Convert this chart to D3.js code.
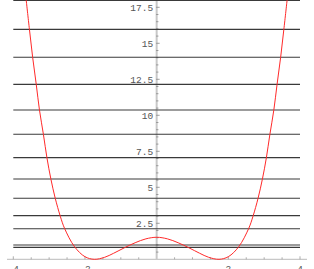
<!DOCTYPE html>
<html>
<head>
<meta charset="utf-8">
<script src="https://cdn.jsdelivr.net/npm/d3@7"></script>
<style>
  body { margin: 0; background: #fff; }
  svg { display: block; }
</style>
</head>
<body>
<div id="chart"></div>
<script>
// potential curve, values
const curveX = [-3.64, -3.55, -3.46, -3.36, -3.27, -3.16, -3.06, -2.95, -2.83, -2.69, -2.57, -2.29, -2.0, -1.74, -1.45, -1.2, -0.9, -0.6, -0.3, 0,
                 0.3, 0.6, 0.9, 1.2, 1.45, 1.74, 2.0, 2.29, 2.57, 2.69, 2.83, 2.95, 3.06, 3.16, 3.27, 3.36, 3.46, 3.55, 3.64];
const curveV = [18.0, 15.97, 14.03, 12.15, 10.37, 8.68, 7.03, 5.56, 4.24, 3.0, 2.15, 0.87, 0.18, 0, 0.14, 0.42, 0.8, 1.15, 1.42, 1.53,
                1.42, 1.15, 0.8, 0.42, 0.14, 0, 0.18, 0.87, 2.15, 3.0, 4.24, 5.56, 7.03, 8.68, 10.37, 12.15, 14.03, 15.97, 18.0];

// energy levels (horizontal lines)
const levels = [0.83, 0.99, 2.12, 3.03, 4.24, 5.58, 7.06, 8.68, 10.37, 12.15, 14.03, 15.97, 17.98];

const xTicks = [-4, -2, 2, 4];
const yTicks = [2.5, 5, 7.5, 10, 12.5, 15, 17.5];

const width = 314, height = 269;

const x = d3.scaleLinear().domain([-4, 4]).range([13.3, 300]);
const y = d3.scaleLinear().domain([0, 18]).range([259.3, 0.1]);

const svg = d3.select('#chart').append('svg')
    .attr('width', width)
    .attr('height', height);

const labelFont = '"Liberation Mono", "DejaVu Sans Mono", monospace';

// y axis
svg.append('line')
    .attr('x1', x(0)).attr('x2', x(0))
    .attr('y1', 0).attr('y2', y(0))
    .attr('stroke', '#c8c8c8')
    .attr('stroke-width', 2);

const yMinor = d3.range(0.5, 18, 0.5);
svg.append('g')
  .selectAll('line')
  .data(yMinor)
  .enter().append('line')
    .attr('x1', x(0) - 0.5)
    .attr('x2', d => x(0) + (d % 2.5 === 0 ? 3 : 1.8))
    .attr('y1', d => y(d)).attr('y2', d => y(d))
    .attr('stroke', '#888')
    .attr('stroke-width', 0.8);

svg.append('g')
  .selectAll('text')
  .data(yTicks)
  .enter().append('text')
    .attr('x', x(0) - 3.5)
    .attr('y', d => y(d))
    .attr('dy', '0.35em')
    .attr('text-anchor', 'end')
    .attr('font-family', labelFont)
    .attr('font-size', 9.5)
    .attr('fill', '#555')
    .text(d => d);

// x axis
svg.append('line')
    .attr('x1', 7).attr('x2', 307)
    .attr('y1', y(0)).attr('y2', y(0))
    .attr('stroke', '#c8c8c8')
    .attr('stroke-width', 1.3);

const xMinor = d3.range(-4, 4.01, 0.5).filter(d => d !== 0);
svg.append('g')
  .selectAll('line')
  .data(xMinor)
  .enter().append('line')
    .attr('x1', d => x(d)).attr('x2', d => x(d))
    .attr('y1', y(0))
    .attr('y2', d => y(0) - (d % 2 === 0 ? 3 : 2))
    .attr('stroke', '#999')
    .attr('stroke-width', 0.8);

svg.append('g')
  .selectAll('text')
  .data(xTicks)
  .enter().append('text')
    .attr('x', d => x(d))
    .attr('y', 272)
    .attr('text-anchor', 'middle')
    .attr('font-family', labelFont)
    .attr('font-size', 9.5)
    .attr('fill', '#555')
    .text(d => d < 0 ? '-' + Math.abs(d) : d);

// energy levels
svg.append('g')
  .selectAll('line')
  .data(levels)
  .enter().append('line')
    .attr('x1', x(-4)).attr('x2', x(4))
    .attr('y1', d => y(d)).attr('y2', d => y(d))
    .attr('stroke', '#3a3a3a')
    .attr('stroke-width', 1.1);

// potential
const line = d3.line()
    .x((d, i) => x(curveX[i]))
    .y(d => y(d))
    .curve(d3.curveCatmullRom);

svg.append('path')
    .datum(curveV)
    .attr('d', line)
    .attr('fill', 'none')
    .attr('stroke', '#ff2a2a')
    .attr('stroke-width', 1);
</script>
</body>
</html>
